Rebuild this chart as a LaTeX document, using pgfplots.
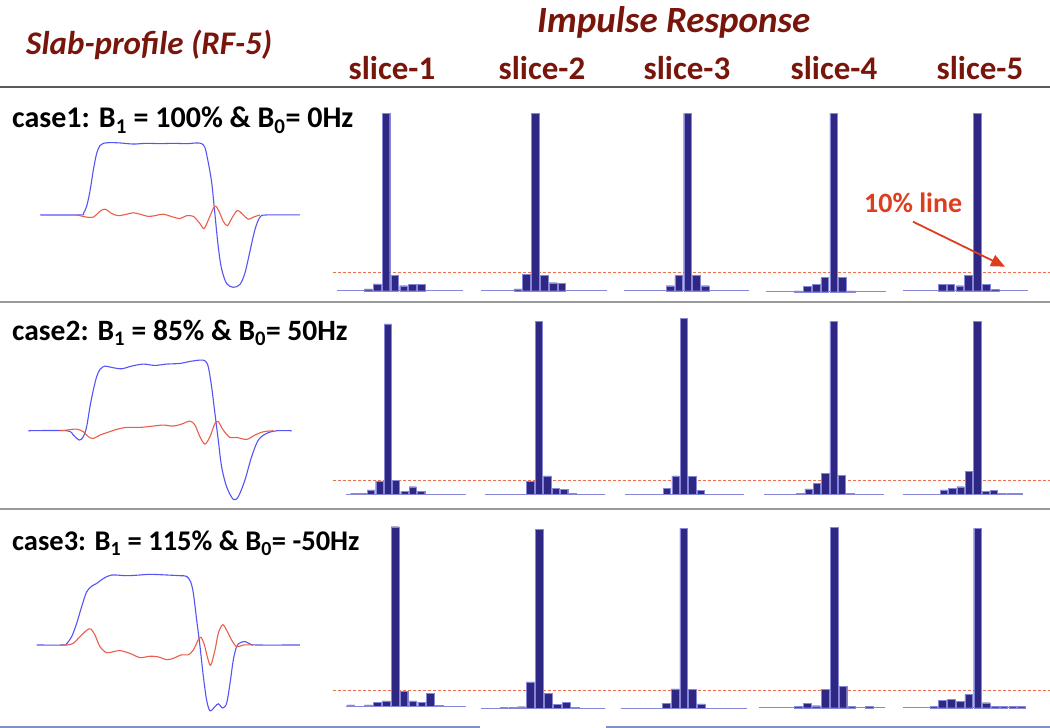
\documentclass[border=0pt]{standalone}
\usepackage{pgfplots}
\pgfplotsset{compat=1.18}
\usepackage{fontspec}
\setmainfont{Carlito}
\usetikzlibrary{arrows.meta}
\definecolor{titlered}{RGB}{120,22,12}
\definecolor{barfill}{RGB}{46,40,132}
\definecolor{baseln}{RGB}{135,135,215}
\definecolor{profblue}{RGB}{85,85,245}
\definecolor{profred}{RGB}{232,95,75}
\definecolor{dashred}{RGB}{242,110,80}
\definecolor{annot}{RGB}{222,62,32}
\definecolor{rulegray}{RGB}{90,90,90}
\definecolor{botblue}{RGB}{125,145,205}
\pgfplotsset{
  irax/.style={hide axis, scale only axis, clip=false, ymin=0, ymax=1, anchor=south west, height=#1},
  prax/.style={hide axis, scale only axis, clip=false, ymin=-1, ymax=1, anchor=south west},
  bars/.style={ybar, bar width=0.87, fill=barfill, draw=baseln, line width=0.35pt},
  bline/.style={baseln, line width=0.9pt},
  pblue/.style={profblue, line width=1.1pt, smooth, tension=0.5},
  pred/.style={profred, line width=1.1pt, smooth, tension=0.5},
  rline/.style={dashred, line width=1pt, dash pattern=on 3pt off 2pt},
}
\begin{document}
\begin{tikzpicture}
\useasboundingbox (0pt,0pt) rectangle (1050pt,728pt);
\fill[white] (0pt,0pt) rectangle (1050pt,728pt);
% ---------- titles ----------
\node[anchor=base west, inner sep=0, text=titlered, font=\fontsize{33}{37}\selectfont\bfseries\itshape] at (26pt,673pt) {Slab-profile (RF-5)};
\node[anchor=base west, inner sep=0, text=titlered, font=\fontsize{37}{41}\selectfont\bfseries\itshape] at (537pt,695pt) {Impulse Response};
\foreach \xx/\ll in {392/1,542/2,687/3,834/4,980/5}{
  \node[anchor=base, inner sep=0, text=titlered, font=\fontsize{33}{37}\selectfont\bfseries] at (\xx pt,648pt) {slice-\ll};
}
\draw[rulegray, line width=1.2pt] (0pt,641pt) -- (1050pt,641pt);
\draw[gray!80, line width=2pt] (0pt,426pt) -- (1050pt,426pt);
\draw[gray!80, line width=2pt] (0pt,219pt) -- (1050pt,219pt);
\draw[botblue, line width=1.5pt] (0pt,1pt) -- (480pt,1pt);
\draw[botblue, line width=1.5pt] (606pt,1pt) -- (1050pt,1pt);
% ---------- case labels ----------
\node[anchor=base west, inner sep=0, font=\fontsize{30}{34}\selectfont\bfseries] at (12pt,600pt) {case1: B\textsubscript{1} = 100\% \& B\textsubscript{0}= 0Hz};
\node[anchor=base west, inner sep=0, font=\fontsize{29.5}{34}\selectfont\bfseries] at (12pt,387pt) {case2: B\textsubscript{1} = 85\% \& B\textsubscript{0}= 50Hz};
\node[anchor=base west, inner sep=0, font=\fontsize{28.5}{33}\selectfont\bfseries] at (12pt,177pt) {case3: B\textsubscript{1} = 115\% \& B\textsubscript{0}= -50Hz};

% ---------- slab profiles ----------
\begin{axis}[prax, at={(40pt,440.7pt)}, width=260pt, height=144.7pt, xmin=120, xmax=900]
\addplot[pblue] coordinates {(120,0)(240,0)(250,0.02)(260,0.12)(270,0.33)(280,0.62)(290,0.85)(300,0.96)(310,0.99)(330,1.0)(360,0.995)(400,0.98)(440,0.99)(480,0.985)(520,0.99)(560,0.985)(590,0.995)(605,0.985)(615,0.93)(625,0.72)(635,0.45)(645,0.0)(655,-0.45)(665,-0.75)(680,-0.95)(700,-1.0)(720,-0.96)(735,-0.8)(750,-0.5)(765,-0.2)(780,-0.03)(800,0)(900,0)};
\addplot[pred] coordinates {(230,0)(240,-0.01)(260,-0.03)(280,-0.03)(300,0.05)(315,0.08)(335,0.02)(355,-0.01)(380,0.01)(400,0.03)(420,0.01)(445,-0.02)(465,-0.01)(490,0.01)(520,-0.03)(540,-0.05)(560,-0.01)(580,-0.02)(600,-0.12)(612,-0.19)(625,-0.07)(640,0.09)(648,0.12)(660,0.02)(670,-0.09)(682,-0.15)(695,-0.05)(712,0.06)(730,0.0)(745,-0.06)(760,-0.03)(780,0)};
\end{axis}
\begin{axis}[prax, at={(28.3pt,230.6pt)}, width=263.3pt, height=133.3pt, xmin=85, xmax=875]
\addplot[pblue] coordinates {(85,0)(200,0)(220,-0.065)(238,-0.14)(250,-0.09)(260,0.06)(270,0.36)(280,0.61)(290,0.81)(300,0.92)(315,0.97)(335,0.95)(365,0.93)(395,0.97)(430,1.0)(465,0.98)(500,1.0)(540,1.01)(570,1.04)(600,1.06)(615,1.05)(625,0.96)(635,0.66)(645,0.26)(655,-0.14)(665,-0.54)(680,-0.84)(700,-1.03)(715,-0.99)(735,-0.74)(755,-0.39)(775,-0.14)(800,-0.04)(830,0)(875,0)};
\addplot[pred] coordinates {(180,0)(200,0.01)(230,0.025)(250,-0.015)(265,-0.09)(280,-0.115)(300,-0.065)(320,-0.03)(350,0.02)(380,0.05)(420,0.05)(460,0.07)(490,0.085)(520,0.07)(545,0.1)(570,0.145)(585,0.085)(600,-0.09)(615,-0.2)(630,-0.09)(645,0.11)(655,0.135)(670,0.01)(690,-0.1)(710,-0.1)(740,-0.13)(765,-0.065)(790,-0.015)(820,0)};
\end{axis}
\begin{axis}[prax, at={(36.7pt,13pt)}, width=263.3pt, height=140pt, xmin=110, xmax=900]
\addplot[pblue] coordinates {(110,0)(190,0)(200,0.02)(215,0.12)(230,0.31)(245,0.55)(260,0.76)(275,0.84)(290,0.88)(310,0.95)(335,1.0)(380,0.99)(420,1.0)(450,1.01)(500,1.0)(540,0.99)(560,0.98)(572,0.9)(580,0.74)(590,0.36)(600,-0.02)(610,-0.45)(620,-0.79)(630,-0.94)(645,-0.88)(655,-0.84)(668,-0.90)(680,-0.83)(690,-0.55)(700,-0.21)(710,-0.02)(720,0.03)(735,0.05)(750,0.015)(770,0)(900,0)};
\addplot[pred] coordinates {(180,0)(200,0)(220,0.025)(240,0.12)(260,0.21)(272,0.23)(285,0.14)(300,-0.025)(320,-0.11)(340,-0.095)(360,-0.08)(390,-0.12)(420,-0.18)(450,-0.16)(475,-0.17)(500,-0.21)(520,-0.19)(545,-0.14)(565,-0.14)(580,-0.07)(600,0.11)(612,0.02)(622,-0.17)(632,-0.29)(645,-0.07)(655,0.17)(668,0.29)(680,0.21)(695,0.07)(710,-0.025)(730,0)(760,0)};
\end{axis}

% ---------- row 1 ----------
\begin{axis}[irax=177.3pt, at={(333pt,437.3pt)}, width=717pt, xmin=0, xmax=1]
\addplot[rline] coordinates {(0,0.1)(1,0.1)};
\end{axis}
\begin{axis}[irax=177.3pt, at={(337.3pt,437.3pt)}, width=126pt, xmin=-0.5, xmax=13.77]
\addplot[bline] coordinates {(-0.5,0)(13.77,0)};
\addplot[bars] coordinates {(3,0.01)(4,0.038)(5,1)(6,0.085)(7,0.028)(8,0.036)(9,0.036)};
\end{axis}
\begin{axis}[irax=177.3pt, at={(481pt,437.3pt)}, width=125.7pt, xmin=-0.15, xmax=14.08]
\addplot[bline] coordinates {(-0.15,0)(14.08,0)};
\addplot[bars] coordinates {(4,0.01)(5,0.092)(6,1)(7,0.085)(8,0.045)(9,0.041)};
\end{axis}
\begin{axis}[irax=177.3pt, at={(624pt,437.3pt)}, width=125.3pt, xmin=-0.2, xmax=13.99]
\addplot[bline] coordinates {(-0.2,0)(13.99,0)};
\addplot[bars] coordinates {(5,0.028)(6,0.085)(7,1)(8,0.085)(9,0.028)};
\end{axis}
\begin{axis}[irax=177.3pt, at={(766pt,436.3pt)}, width=120pt, xmin=-0.66, xmax=12.93]
\addplot[bline] coordinates {(-0.66,0)(12.93,0)};
\addplot[bars] coordinates {(3,0.005)(4,0.03)(5,0.04)(6,0.08)(7,1.006)(8,0.08)(9,0.005)};
\end{axis}
\begin{axis}[irax=177.3pt, at={(903.3pt,437.3pt)}, width=125pt, xmin=-0.38, xmax=13.78]
\addplot[bline] coordinates {(-0.38,0)(13.78,0)};
\addplot[bars] coordinates {(4,0.036)(5,0.036)(6,0.028)(7,0.085)(8,1)(9,0.036)(10,0.008)};
\end{axis}

% ---------- row 2 ----------
\begin{axis}[irax=170pt, at={(333pt,234pt)}, width=717pt, xmin=0, xmax=1]
\addplot[rline] coordinates {(0,0.082)(1,0.082)};
\end{axis}
\begin{axis}[irax=170pt, at={(346pt,234pt)}, width=120pt, xmin=0, xmax=14.39]
\addplot[bline] coordinates {(0,0)(14.39,0)};
\addplot[bars] coordinates {(1,0.004)(2,0.004)(3,0.024)(4,0.075)(5,1)(6,0.08)(7,0.014)(8,0.043)(9,0.014)};
\end{axis}
\begin{axis}[irax=170pt, at={(485pt,234pt)}, width=120pt, xmin=-0.37, xmax=13.85]
\addplot[bline] coordinates {(-0.37,0)(13.85,0)};
\addplot[bars] coordinates {(5,0.073)(6,1.014)(7,0.106)(8,0.035)(9,0.027)(10,0.003)};
\end{axis}
\begin{axis}[irax=170pt, at={(625pt,234pt)}, width=119.3pt, xmin=0, xmax=14.2]
\addplot[bline] coordinates {(0,0)(14.2,0)};
\addplot[bars] coordinates {(5,0.033)(6,0.106)(7,1.033)(8,0.102)(9,0.02)};
\end{axis}
\begin{axis}[irax=170pt, at={(764pt,234pt)}, width=120pt, xmin=-0.37, xmax=14.09]
\addplot[bline] coordinates {(-0.37,0)(14.09,0)};
\addplot[bars] coordinates {(4,0.004)(5,0.03)(6,0.063)(7,0.12)(8,1.014)(9,0.11)(10,0.004)};
\end{axis}
\begin{axis}[irax=170pt, at={(903.3pt,234pt)}, width=119.4pt, xmin=0.1, xmax=14.49]
\addplot[bline] coordinates {(0.1,0)(14.49,0)};
\addplot[bars] coordinates {(5,0.024)(6,0.033)(7,0.043)(8,0.133)(9,1.014)(10,0.014)(11,0.02)(12,0.004)(13,0.004)(14,0.004)};
\end{axis}

% ---------- row 3 ----------
\begin{axis}[irax=179.3pt, at={(333pt,22pt)}, width=717pt, xmin=0, xmax=1]
\addplot[rline] coordinates {(0,0.085)(1,0.085)};
\end{axis}
\begin{axis}[irax=179.3pt, at={(346pt,22pt)}, width=120pt, xmin=-0.54, xmax=13.02]
\addplot[bline] coordinates {(-0.54,0)(13.02,0)};
\addplot[bars] coordinates {(0,0.006)(2,0.006)(3,0.019)(4,0.028)(5,1)(6,0.082)(7,0.028)(8,0.022)(9,0.072)(10,0.004)};
\end{axis}
\begin{axis}[irax=179.3pt, at={(480.7pt,19.7pt)}, width=124.3pt, xmin=-0.58, xmax=13.39]
\addplot[bline] coordinates {(-0.58,0)(13.39,0)};
\addplot[bars] coordinates {(2,0.004)(3,0.004)(4,0.009)(5,0.147)(6,0.998)(7,0.084)(8,0.022)(9,0.033)(10,0.006)};
\end{axis}
\begin{axis}[irax=179.3pt, at={(620.7pt,19.7pt)}, width=126pt, xmin=-0.24, xmax=14.24]
\addplot[bline] coordinates {(-0.24,0)(14.24,0)};
\addplot[bars] coordinates {(5,0.028)(6,0.108)(7,1.004)(8,0.106)(9,0.024)};
\end{axis}
\begin{axis}[irax=179.3pt, at={(759pt,20.3pt)}, width=126pt, xmin=-0.42, xmax=13.74]
\addplot[bline] coordinates {(-0.42,0)(13.74,0)};
\addplot[bars] coordinates {(4,0.006)(5,0.024)(6,0.011)(7,0.102)(8,1.006)(9,0.12)(10,0.006)(12,0.006)};
\end{axis}
\begin{axis}[irax=179.3pt, at={(903.3pt,20.3pt)}, width=122.7pt, xmin=-0.47, xmax=13.54]
\addplot[bline] coordinates {(-0.47,0)(13.54,0)};
\addplot[bars] coordinates {(3,0.006)(4,0.041)(5,0.046)(6,0.035)(7,0.074)(8,1.0)(9,0.028)(10,0.006)(11,0.006)(12,0.006)(13,0.006)};
\end{axis}

% ---------- annotation ----------
\node[anchor=base west, inner sep=0, text=annot, font=\fontsize{28}{32}\selectfont\bfseries] at (864pt,515.3pt) {10\% line};
\draw[annot, line width=1.8pt, -{Triangle[length=14pt,width=12pt]}] (913pt,506.3pt) -- (1005pt,461.3pt);
\end{tikzpicture}
\end{document}
